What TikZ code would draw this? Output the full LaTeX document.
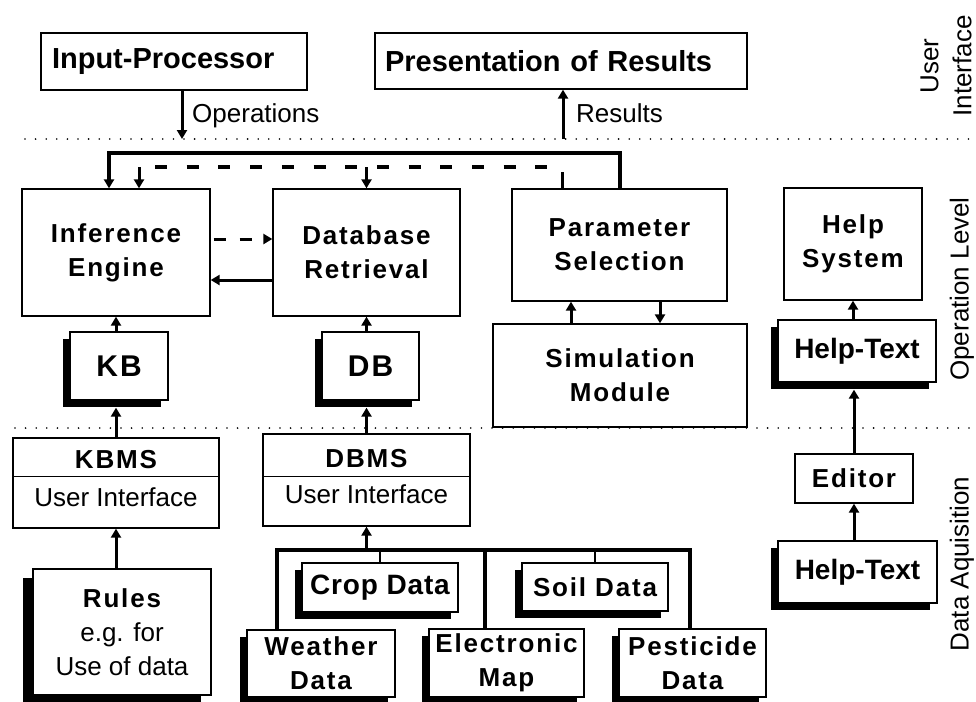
\documentclass[tikz,border=0pt]{standalone}
\usepackage{fontspec}
\setmainfont{Liberation Sans}
\newfontfamily\bsp[LetterSpace=7]{Liberation Sans}
\newfontfamily\bsq[LetterSpace=3]{Liberation Sans}
\usetikzlibrary{arrows.meta,shadows}
\begin{document}
\begin{tikzpicture}[x=1pt,y=-1pt,
  box/.style={draw, line width=1.3pt, fill=white, align=center, inner sep=0pt,
    font=\bsp\bfseries\fontsize{26}{34}\selectfont},
  sbox/.style={box, general shadow={fill=black, shadow xshift=-7pt, shadow yshift=-7pt}},
  plainbold/.style={font=\bfseries\fontsize{29}{34}\selectfont},
  btxt/.style={inner sep=0pt, font=\bsp\bfseries\fontsize{26}{34}\selectfont},
  reg/.style={inner sep=0pt, font=\fontsize{26}{33}\selectfont},
  tip/.style={-{Triangle[length=9pt,width=10pt]}},
  conn/.style={line width=3pt, tip},
  thick line/.style={line width=3.2pt},
  fb/.style={line width=4pt},
  dotl/.style={line width=1.8pt, line cap=round, dash pattern=on 0pt off 10.6pt}]
\useasboundingbox (0,0) rectangle (976,701);

% level separators
\draw[dotl] (25,139) -- (976,139);
\draw[dotl] (15,428) -- (976,428);

% user interface level
\node[box, plainbold, minimum height=57pt, text width=244pt, inner xsep=11pt, align=left] (ip) at (174,61.5) {Input-Processor};
\node[box, plainbold, minimum height=56pt, text width=352pt, inner xsep=10pt, align=left] (pr) at (561,61) {Presentation of Results};
\coordinate (opE) at (182,139);
\draw[conn] (ip.south -| opE) -- (opE);
\node[reg, anchor=base west] (opL) at (192,122) {Operations};
\coordinate (resS) at (563,139);
\draw[conn] (resS) -- (resS |- pr.south);
\node[reg, anchor=base west] (resL) at (576,122) {Results};

% operation level
\node[box, minimum width=188pt, minimum height=127pt] (ie) at (116,252.5) {Inference\\Engine};
\node[box, minimum width=187pt, minimum height=127pt] (dr) at (366.5,252.5) {Database\\Retrieval};
\node[box, minimum width=215pt, minimum height=112pt] (ps) at (619.5,245) {Parameter\\Selection};
\node[box, minimum width=138pt, minimum height=112pt] (hs) at (853,244) {Help\\System};
\node[box, minimum width=254pt, minimum height=103pt] (sm) at (620,375.5) {Simulation\\Module};
\node[sbox, minimum width=98pt, minimum height=68pt, font=\bsp\bfseries\fontsize{30}{34}\selectfont] (kb) at (119,366) {KB};
\node[sbox, minimum width=97pt, minimum height=68pt, font=\bsp\bfseries\fontsize{30}{34}\selectfont] (db) at (370.5,366) {DB};
\node[sbox, minimum width=158pt, minimum height=62pt, font=\bfseries\fontsize{28}{34}\selectfont] (ht1) at (857,351) {Help-Text};

% feedback lines
\coordinate (fbL) at (109,153);
\draw[fb, tip] (ps.north) |- (fbL) -- (fbL |- ie.north);
\coordinate (dsL) at (139,167);
\coordinate (dsS) at (562,172);
\draw[line width=3pt] (dsS |- ps.north) -- (dsS);
\draw[fb, dash pattern=on 12pt off 19.7pt] (155,167) -- (550,167);
\draw[conn] (dsL) -- (dsL |- ie.north);
\draw[conn] (dr.north |- dsL) -- (dr.north);

% between inference and database
\draw[conn, dash pattern=on 12pt off 14pt, dash phase=-3pt] ([yshift=13.5pt]ie.east) -- ([yshift=13.5pt]dr.west);
\draw[conn] ([yshift=-27.5pt]dr.west) -- ([yshift=-27.5pt]ie.east);
\draw[conn] (ie.south |- kb.north) -- (ie.south);
\draw[conn] (dr.south |- db.north) -- (dr.south);
\coordinate (psUp) at (571,0);
\coordinate (psDn) at (660,0);
\draw[conn] (psUp |- sm.north) -- (psUp |- ps.south);
\draw[conn] (psDn |- ps.south) -- (psDn |- sm.north);
\draw[conn] (hs.south |- ht1.north) -- (hs.south);

% data acquisition level
\node[box, minimum width=206pt, minimum height=90pt] (kbms) at (116,483) {};
\draw[line width=1.3pt] ([yshift=-39pt]kbms.north west) -- ([yshift=-39pt]kbms.north east);
\node[btxt, anchor=base] (kbmsT) at (116,468) {KBMS};
\node[reg, anchor=base] (kbmsU) at (116,506) {User Interface};

\node[box, minimum width=207pt, minimum height=92pt] (dbms) at (366.5,480) {};
\draw[line width=1.3pt] ([yshift=-43pt]dbms.north west) -- ([yshift=-43pt]dbms.north east);
\node[btxt, anchor=base] (dbmsT) at (366.5,467) {DBMS};
\node[reg, anchor=base] (dbmsU) at (366.5,503) {User Interface};

\node[box, minimum width=178pt, minimum height=126pt,
  general shadow={fill=black, shadow xshift=-10pt, shadow yshift=-9pt}] (ru) at (122,632)
  {Rules\\{\normalfont\fontsize{26}{34}\selectfont e.g. for}\\{\normalfont\fontsize{26}{34}\selectfont Use of data}};

\node[sbox, minimum width=156pt, minimum height=49pt, font=\bsq\bfseries\fontsize{28}{34}\selectfont] (cd) at (380,587.5) {Crop Data};
\node[sbox, minimum width=146pt, minimum height=48pt] (sd) at (595,587) {Soil Data};
\node[sbox, minimum width=148pt, minimum height=67pt] (wd) at (321,663.5) {Weather\\Data};
\node[sbox, minimum width=155pt, minimum height=68pt] (em) at (506.5,663) {Electronic\\Map};
\node[sbox, minimum width=147pt, minimum height=68pt] (pd) at (692.5,663) {Pesticide\\Data};

\node[box, minimum width=118pt, minimum height=49pt] (ed) at (854,478.5) {Editor};
\node[sbox, minimum width=159pt, minimum height=62pt, font=\bfseries\fontsize{28}{34}\selectfont] (ht2) at (857.5,572) {Help-Text};

\draw[conn] (kbms.north) -- ([yshift=-7pt]kb.south -| kbms.north);
\draw[conn] (dbms.north) -- ([yshift=-7pt]db.south -| dbms.north);
\draw[conn] (ru.north -| kbms.south) -- (kbms.south);

\coordinate (busL) at (277,550);
\coordinate (busR) at (690,550);
\coordinate (busE) at (485,550);
\draw[thick line] (wd.north -| busL) -- (busL) -- (busR) -- (busR |- pd.north);
\draw[thick line] (busE) -- (busE |- em.north);
\draw[line width=2.6pt] (cd.north |- busL) -- (cd.north);
\draw[line width=2.6pt] (sd.north |- busL) -- (sd.north);
\draw[conn] (dbms.south |- busL) -- (dbms.south);

\draw[conn] (ed.north) -- ([yshift=-7pt]ht1.south -| ed.north);
\draw[conn] (ht2.north -| ed.south) -- (ed.south);

% side labels
\node[reg, rotate=90, align=center] (lbUI) at (946,66) {User\\Interface};
\node[reg, rotate=90] (lbOL) at (962,289) {Operation Level};
\node[reg, rotate=90] (lbDA) at (962,564) {Data Aquisition};
\end{tikzpicture}
\end{document}
